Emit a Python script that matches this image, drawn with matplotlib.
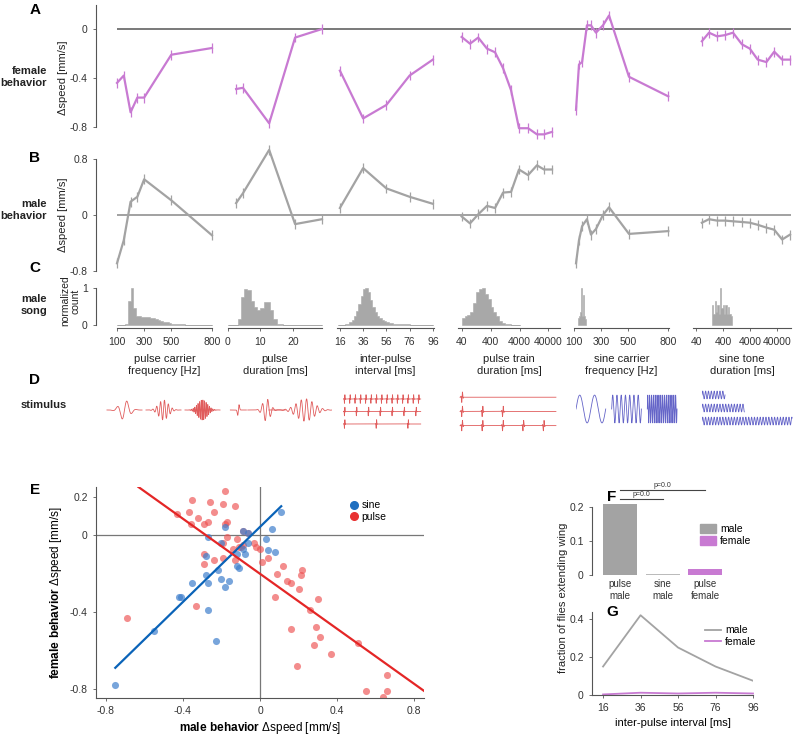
import numpy as np
import matplotlib.pyplot as plt
from matplotlib.lines import Line2D
from matplotlib.patches import Patch

plt.rcParams['font.family'] = ['Liberation Sans', 'DejaVu Sans']
plt.rcParams['mathtext.fontset'] = 'custom'
plt.rcParams['mathtext.rm'] = 'Liberation Sans'
plt.rcParams['mathtext.bf'] = 'Liberation Sans:bold'
plt.rcParams['axes.edgecolor'] = '#555555'
plt.rcParams['axes.linewidth'] = 0.8
plt.rcParams['xtick.color'] = '#555555'
plt.rcParams['ytick.color'] = '#555555'
plt.rcParams['xtick.labelcolor'] = '#333333'
plt.rcParams['ytick.labelcolor'] = '#333333'

# ---------------- data: behaviour (A female, B male) ----------------
pcf_hz = [100, 150, 200, 250, 300, 500, 800]
pcf_female = [-0.44, -0.38, -0.68, -0.56, -0.56, -0.21, -0.155]
pcf_male = [-0.69, -0.36, 0.19, 0.26, 0.51, 0.21, -0.29]

pdur_ms = [2.5, 4.6, 12.7, 20.7, 29]
pdur_female = [-0.49, -0.48, -0.77, -0.07, 0.0]
pdur_male = [0.17, 0.31, 0.93, -0.13, -0.06]

ipi_ms = [16, 36, 56, 76, 96]
ipi_female = [-0.34, -0.73, -0.62, -0.38, -0.25]
ipi_male = [0.10, 0.67, 0.38, 0.26, 0.16]

ptrain_ms = [40, 78, 150, 300, 570, 1080, 2040, 3830, 7900, 16000, 28000, 53000]
ptrain_female = [-0.065, -0.12, -0.07, -0.16, -0.19, -0.32, -0.50, -0.81, -0.81, -0.86, -0.86, -0.84]
ptrain_male = [-0.02, -0.12, 0.01, 0.13, 0.10, 0.32, 0.33, 0.65, 0.57, 0.71, 0.65, 0.65]

scf_hz = [115, 137, 160, 196, 226, 263, 315, 360, 508, 800]
scf_female = [-0.66, -0.29, -0.27, 0.03, 0.03, -0.03, 0.03, 0.11, -0.39, -0.55]
scf_male = [-0.69, -0.36, -0.16, -0.06, -0.28, -0.20, 0.0, 0.11, -0.27, -0.23]

stdur_ms = [64, 118, 233, 462, 916, 1960, 3840, 7560, 15900, 31000, 61000, 120000]
stdur_female = [-0.10, -0.03, -0.06, -0.05, -0.03, -0.125, -0.16, -0.25, -0.27, -0.185, -0.25, -0.25]
stdur_male = [-0.11, -0.06, -0.08, -0.08, -0.09, -0.10, -0.11, -0.14, -0.18, -0.21, -0.35, -0.28]

female_sem = 0.04
male_sem = 0.07

# ---------------- data: song histograms (C) ----------------
h_pcf_edges = np.arange(100, 801, 20)
h_pcf = [0, 0, 0, 0.04, 0.65, 1.0, 0.45, 0.25, 0.23, 0.22, 0.22, 0.21, 0.2, 0.18, 0.16,
         0.14, 0.11, 0.09, 0.07, 0.05, 0.04, 0.03, 0.02, 0.02, 0.015, 0.01, 0.01, 0.008,
         0.006, 0.005, 0, 0, 0, 0, 0]
h_pdur_edges = np.arange(0, 30, 1)
h_pdur = [0, 0, 0, 0.15, 0.75, 0.98, 0.95, 0.65, 0.5, 0.4, 0.45, 0.62, 0.63, 0.4, 0.15,
          0.04, 0.02, 0.01, 0.008, 0.006, 0.005, 0.004, 0.003, 0.003, 0, 0, 0, 0, 0]
h_ipi_edges = np.arange(14, 97, 2)
h_ipi = [0, 0.005, 0.01, 0.02, 0.04, 0.08, 0.14, 0.24, 0.38, 0.56, 0.78, 0.97, 1.0, 0.88,
         0.68, 0.5, 0.36, 0.25, 0.18, 0.13, 0.1, 0.08, 0.06, 0.05, 0.04, 0.035, 0.03, 0.025,
         0.02, 0.018, 0.015, 0.013, 0.011, 0.01, 0.009, 0.008, 0.007, 0.006, 0.005, 0.005, 0.004]
h_ptrain_edges = np.geomspace(40, 4000, 21)
h_ptrain = [0.2, 0.24, 0.28, 0.34, 0.6, 0.88, 0.97, 1.0, 0.85, 0.7, 0.5, 0.36, 0.25, 0.12,
            0.06, 0.03, 0.015, 0.008, 0.004, 0.002]
h_scf_edges = np.arange(130, 191, 4)
h_scf = [0.2, 0.22, 0.25, 0.3, 0.35, 0.9, 1.0, 0.3, 0.25, 0.3, 0.8, 0.25, 0.2, 0.15, 0.1]
h_stdur_edges = np.geomspace(150, 850, 16)
h_stdur = [0.55, 0.3, 0.65, 0.35, 0.55, 0.3, 1.0, 0.45, 0.55, 0.3, 0.55, 0.3, 0.5, 0.3, 0.25]

# ---------------- data: stimulus examples (D) ----------------
stim_pulse_carrier_hz = [100, 250, 600]
stim_pulse_dur_ms = [2.5, 12.5, 29]
stim_ipi_ms = [16, 36, 96]
stim_train_pulses = [1, 3, 5]
stim_sine_carrier_hz = [100, 350, 800]
stim_sine_dur_ms = [250, 460, 980]

# ---------------- data: scatter (E) ----------------
sine_x = [-0.27, -0.18, -0.20, -0.28, -0.09, -0.06, -0.09, -0.08, -0.12, -0.12, -0.11, -0.22,
          -0.28, -0.35, -0.27, -0.20, -0.16, -0.18, 0.03, 0.04, 0.08, 0.06, 0.11, -0.42,
          -0.41, -0.27, -0.55, -0.23, -0.75, -0.06]
sine_y = [-0.01, 0.04, -0.04, -0.11, 0.02, -0.04, -0.07, -0.10, -0.10, -0.16, -0.17, -0.18,
          -0.21, -0.25, -0.25, -0.23, -0.24, -0.27, -0.02, -0.08, -0.09, 0.03, 0.12, -0.32,
          -0.32, -0.39, -0.50, -0.55, -0.78, 0.01]
pulse_x = [-0.35, -0.18, -0.26, -0.37, -0.43, -0.32, -0.29, -0.36, -0.27, -0.24, -0.19, -0.13,
           -0.17, -0.18, -0.17, -0.09, -0.12, -0.19, -0.10, -0.06, -0.03, -0.02, 0.0, -0.29,
           -0.19, -0.24, -0.29, -0.13, 0.01, 0.04, 0.12, 0.09, 0.14, 0.16, 0.20, 0.22, 0.21,
           0.08, 0.30, -0.33, -0.69, 0.26, 0.16, 0.29, 0.31, 0.28, 0.37, 0.51, 0.19, 0.66,
           0.55, 0.66, 0.64, -0.14, -0.09, -0.11]
pulse_y = [0.18, 0.23, 0.17, 0.12, 0.11, 0.09, 0.06, 0.06, 0.07, 0.12, 0.16, 0.15,
           0.07, 0.06, -0.01, 0.02, -0.02, -0.04, -0.06, 0.01, -0.04, -0.06, -0.07, -0.10,
           -0.12, -0.13, -0.15, -0.13, -0.14, -0.12, -0.16, -0.20, -0.24, -0.25, -0.28, -0.18, -0.21,
           -0.32, -0.33, -0.37, -0.43, -0.39, -0.49, -0.48, -0.53, -0.57, -0.62, -0.56, -0.68, -0.73,
           -0.81, -0.81, -0.84, -0.07, -0.05, -0.06]
sine_fit_x = [-0.75, 0.11]
sine_fit_y = [-0.69, 0.15]
pulse_fit_x = [-0.63, 0.85]
pulse_fit_y = [0.25, -0.81]

# ---------------- data: wing extension (F, G) ----------------
f_labels = ['pulse\nmale', 'sine\nmale', 'pulse\nfemale']
f_values = [0.21, 0.003, 0.018]
f_pairs = [(0, 1), (0, 2)]
f_pvalues = [0.0, 0.0]
g_ipi_ms = [16, 36, 56, 76, 96]
g_male = [0.15, 0.42, 0.25, 0.15, 0.075]
g_female = [0.003, 0.012, 0.008, 0.012, 0.008]

# ---------------- styles / layout ----------------
MAGENTA = '#c87ad2'
GRAY = '#a3a3a3'
HIST = '#a8a8a8'
RED = '#e05c5c'
BLUE = '#6464c8'
W, H = 800, 735

fig = plt.figure(figsize=(8, 7.35), dpi=100)


def box(x0, y0, x1, y1):
    return [x0 / W, 1 - y1 / H, (x1 - x0) / W, (y1 - y0) / H]


def ftext(x, y, s, **kw):
    return fig.text(x / W, 1 - y / H, s, **kw)


COLS = [(117, 212), (228, 322), (337, 434), (458, 560), (574, 669), (693, 791)]
XLIMS = [(100, 800), (0, 29), (13.5, 97), (30, 1e5), (100, 805), (30, 1.3e5)]
XSCALES = ['linear', 'linear', 'linear', 'log', 'linear', 'log']
XTICKS = [[100, 300, 500, 800], [0, 10, 20], [16, 36, 56, 76, 96],
          [40, 400, 4000, 40000], [100, 300, 500, 800], [40, 400, 4000, 40000]]
XLABELS = ['pulse carrier\nfrequency [Hz]', 'pulse\nduration [ms]', 'inter-pulse\ninterval [ms]',
           'pulse train\nduration [ms]', 'sine carrier\nfrequency [Hz]', 'sine tone\nduration [ms]']


def behaviour_row(y0, y1, ylim, yticks, yticklabels, series, color, sem, zero_color):
    host = fig.add_axes(box(COLS[0][0], y0, COLS[-1][1], y1))
    host.set_xlim(0, 1)
    host.set_ylim(*ylim)
    host.axhline(0, color=zero_color, lw=1.1)
    for s in ['top', 'right', 'bottom']:
        host.spines[s].set_visible(False)
    host.spines['left'].set_position(('outward', 15))
    host.set_xticks([])
    host.set_yticks(yticks, yticklabels)
    host.tick_params(axis='y', labelsize=7.5, length=2.5, width=0.6)
    for (x0, x1), lim, sc, (xs, ys) in zip(COLS, XLIMS, XSCALES, series):
        ax = fig.add_axes(box(x0, y0, x1, y1))
        ax.set_xscale(sc)
        ax.set_xlim(*lim)
        ax.set_ylim(*ylim)
        ax.axis('off')
        eb = ax.errorbar(xs, ys, yerr=sem, color=color, ecolor=color, lw=1.6,
                         elinewidth=0.9, capsize=0)
        eb.lines[0].set_clip_on(False)
        for art in eb.lines[2]:
            art.set_clip_on(False)


behaviour_row(4.5, 127, (-0.8, 0.2), [-0.8, -0.4, 0], ['-0.8', '-0.4', '0'],
              [(pcf_hz, pcf_female), (pdur_ms, pdur_female), (ipi_ms, ipi_female),
               (ptrain_ms, ptrain_female), (scf_hz, scf_female), (stdur_ms, stdur_female)],
              MAGENTA, female_sem, '#555555')
behaviour_row(159, 271, (-0.8, 0.8), [-0.8, 0, 0.8], ['-0.8', '0', '0.8'],
              [(pcf_hz, pcf_male), (pdur_ms, pdur_male), (ipi_ms, ipi_male),
               (ptrain_ms, ptrain_male), (scf_hz, scf_male), (stdur_ms, stdur_male)],
              GRAY, male_sem, '#888888')

# ---------------- C: song histograms ----------------
hists = [(h_pcf_edges, h_pcf), (h_pdur_edges, h_pdur), (h_ipi_edges, h_ipi),
         (h_ptrain_edges, h_ptrain), (h_scf_edges, h_scf), (h_stdur_edges, h_stdur)]
for i, ((x0, x1), lim, sc, (edges, vals)) in enumerate(zip(COLS, XLIMS, XSCALES, hists)):
    ax = fig.add_axes(box(x0, 286, x1, 328))
    ax.set_xscale(sc)
    steps = list(vals) + [vals[-1]]
    ax.fill_between(edges, 0, steps, step='post', color=HIST, lw=0.4, edgecolor=HIST)
    ax.set_xlim(*lim)
    ax.set_ylim(-0.081, 1.054)
    ax.patch.set_visible(False)
    for s in ['top', 'right']:
        ax.spines[s].set_visible(False)
    ax.minorticks_off()
    ax.set_xticks(XTICKS[i], [str(t) for t in XTICKS[i]])
    ax.tick_params(axis='x', labelsize=7.5, length=2.5, width=0.6, pad=4)
    ax.set_xlabel(XLABELS[i], fontsize=8, labelpad=5, linespacing=1.25, color='#222222')
    if i == 0:
        ax.spines['left'].set_position(('outward', 15))
        ax.spines['left'].set_bounds(0, 1)
        ax.set_yticks([0, 1], ['0', '1'])
        ax.tick_params(axis='y', labelsize=7.5, length=2.5, width=0.6)
    else:
        ax.spines['left'].set_visible(False)
        ax.set_yticks([])

# ---------------- D: stimuli ----------------


def gabor(t, f, sigma):
    return np.sin(2 * np.pi * f * t / 1000) * np.exp(-t ** 2 / (2 * sigma ** 2))


stim_axes = []
for rect in [(105, 392, 222, 428), (225, 392, 332, 428), (343, 390, 424, 432),
             (458, 388, 560, 432), (576, 393, 680, 425), (702, 390, 794, 426)]:
    a = fig.add_axes(box(*rect))
    a.axis('off')
    stim_axes.append(a)

a = stim_axes[0]
for k, f in enumerate(stim_pulse_carrier_hz):
    t = np.linspace(-18, 18, 1500)
    a.plot(t + 40 * k, gabor(t, f, 5), color=RED, lw=0.6)
a.set_xlim(-20, 100)
a.set_ylim(-1.8, 1.8)

a = stim_axes[1]
for c, d in zip([10, 31, 60], stim_pulse_dur_ms):
    t = np.linspace(-d * 0.8 - 4, d * 0.8 + 4, 1500)
    a.plot(t + c, gabor(t, 250, d / 4.5), color=RED, lw=0.6)
a.set_xlim(0, 80)
a.set_ylim(-1.6, 1.6)

a = stim_axes[2]
t = np.linspace(0, 235, 6000)
for row, ipi in enumerate(stim_ipi_ms):
    sig = np.zeros_like(t)
    for tp in np.arange(5, 235, ipi):
        sig += gabor(t - tp, 300, 1.0)
    a.plot(t, 0.45 * sig - row, color=RED, lw=0.6)
a.set_xlim(0, 245)
a.set_ylim(-2.64, 0.72)

a = stim_axes[3]
t = np.linspace(4, 192, 6000)
for row, n in enumerate(stim_train_pulses):
    sig = np.zeros_like(t)
    for k in range(n):
        sig += gabor(t - (8 + 40 * k), 300, 1.2)
    a.plot(t, 0.45 * sig - row, color=RED, lw=0.6)
a.set_xlim(0, 200)
a.set_ylim(-2.45, 0.65)

a = stim_axes[4]
for k, f in enumerate(stim_sine_carrier_hz):
    t = np.linspace(0, 20, 3000)
    a.plot(t + 24 * k, np.sin(2 * np.pi * f * t / 1000), color=BLUE, lw=0.6)
a.set_xlim(0, 70)
a.set_ylim(-1.15, 1.15)

a = stim_axes[5]
for k, d in enumerate(stim_sine_dur_ms):
    t = np.linspace(0, d, 4000)
    a.plot(t, 0.3 * np.sin(2 * np.pi * 32 * t / 1000) - k, color=BLUE, lw=0.6)
a.set_xlim(0, 1000)
a.set_ylim(-2.38, 0.38)

# ---------------- E: male vs female ----------------
axE = fig.add_axes(box(96, 487, 424, 698))
axE.axhline(0, color='#777777', lw=0.9, zorder=0)
axE.axvline(0, color='#777777', lw=0.9, zorder=0)
axE.scatter(pulse_x, pulse_y, s=26, color='#ee5050', alpha=0.65, lw=0, zorder=2)
axE.scatter(sine_x, sine_y, s=26, color='#3f7fcc', alpha=0.7, lw=0, zorder=3)
axE.plot(sine_fit_x, sine_fit_y, color='#0a63b8', lw=1.6, zorder=4)
axE.plot(pulse_fit_x, pulse_fit_y, color='#e42626', lw=1.6, zorder=4)
axE.set_xlim(-0.85, 0.85)
axE.set_ylim(-0.847, 0.25)
for s in ['top', 'right']:
    axE.spines[s].set_visible(False)
axE.set_xticks([-0.8, -0.4, 0, 0.4, 0.8], ['-0.8', '-0.4', '0', '0.4', '0.8'])
axE.set_yticks([-0.8, -0.4, 0, 0.2], ['-0.8', '-0.4', '0', '0.2'])
axE.tick_params(labelsize=7.5, length=2.5, width=0.6)
axE.set_xlabel(r'$\mathbf{male\ behavior}$ Δspeed [mm/s]', fontsize=8.5, labelpad=3)
axE.set_ylabel(r'$\mathbf{female\ behavior}$ Δspeed [mm/s]', fontsize=8.5, labelpad=4)
handles = [Line2D([], [], ls='none', marker='o', ms=5.5, color='#1f6fc0'),
           Line2D([], [], ls='none', marker='o', ms=5.5, color='#e83232')]
axE.legend(handles, ['sine', 'pulse'], loc='upper left', bbox_to_anchor=(343 / W, 1 - 495 / H),
           bbox_transform=fig.transFigure, frameon=False, fontsize=7.5, handletextpad=0.1,
           labelspacing=0.15, borderpad=0, handlelength=1.2)

# ---------------- F: wing extension by stimulus ----------------
axF = fig.add_axes(box(592, 503, 790, 575))
axF.bar(range(3), f_values, width=0.8, color=[GRAY, '#bbbbbb', MAGENTA])
axF.set_xlim(-0.66, 4.0)
axF.set_ylim(0, 0.2118)
for s in ['top', 'right', 'bottom']:
    axF.spines[s].set_visible(False)
axF.spines['left'].set_bounds(0, 0.2)
axF.set_yticks([0, 0.1, 0.2], ['0', '0.1', '0.2'])
axF.set_xticks(range(3), f_labels)
axF.tick_params(axis='y', labelsize=7.5, length=2.5, width=0.6)
axF.tick_params(axis='x', labelsize=7, length=0, pad=3)
for (i, j), p, h in zip(f_pairs, f_pvalues, [0.2235, 0.25]):
    axF.plot([i, j], [h, h], color='#444444', lw=0.8, clip_on=False)
    axF.text((i + j) / 2, h + 0.002, f'p={p:.1f}', ha='center', va='bottom', fontsize=5,
             color='#333333', clip_on=False)
axF.legend([Patch(color=GRAY), Patch(color=MAGENTA)], ['male', 'female'], loc='upper left',
           bbox_to_anchor=(695 / W, 1 - 519 / H), bbox_transform=fig.transFigure,
           frameon=False, fontsize=7.5, handletextpad=0.4, labelspacing=0.15, borderpad=0,
           handlelength=1.5, handleheight=0.9)

# ---------------- G: wing extension vs IPI ----------------
axG = fig.add_axes(box(592, 612, 753, 695))
axG.plot(g_ipi_ms, g_male, color=GRAY, lw=1.3, label='male')
axG.plot(g_ipi_ms, g_female, color=MAGENTA, lw=1.3, label='female', clip_on=False)
axG.set_xlim(10.1, 96)
axG.set_ylim(0, 0.437)
for s in ['top', 'right']:
    axG.spines[s].set_visible(False)
axG.set_xticks(g_ipi_ms, [str(v) for v in g_ipi_ms])
axG.set_yticks([0, 0.2, 0.4], ['0', '0.2', '0.4'])
axG.tick_params(labelsize=7.5, length=2.5, width=0.6)
axG.set_xlabel('inter-pulse interval [ms]', fontsize=8, labelpad=3)
axG.legend(loc='upper left', bbox_to_anchor=(700 / W, 1 - 620 / H), bbox_transform=fig.transFigure,
           frameon=False, fontsize=7.5, handletextpad=0.4, labelspacing=0.15, borderpad=0,
           handlelength=1.5)

# ---------------- labels ----------------
lbl = dict(fontsize=8, fontweight='bold', color='#222222', ha='right', va='center', linespacing=1.2)
ftext(47, 77, 'female\nbehavior', **lbl)
ftext(47, 210, 'male\nbehavior', **lbl)
ftext(47, 305, 'male\nsong', **lbl)
ftext(67, 405, 'stimulus', **lbl)
ylab = dict(fontsize=8, rotation=90, ha='center', va='center', color='#222222')
ftext(63, 78, 'Δspeed [mm/s]', **ylab)
ftext(63, 215, 'Δspeed [mm/s]', **ylab)
ftext(70, 301, 'normalized\ncount', linespacing=1.05, fontsize=7.5, rotation=90, ha='center',
      va='center', color='#222222')
ftext(563, 598, 'fraction of flies extending wing', **ylab)

let = dict(fontsize=11, fontweight='bold', ha='center', va='center')
for ch, x, y in [('A', 35, 10), ('B', 35, 158), ('C', 35, 268), ('D', 35, 380),
                 ('E', 35, 490), ('F', 612, 497), ('G', 612, 612)]:
    ftext(x, y, ch, **let)

fig.savefig('out.png', dpi=100)
